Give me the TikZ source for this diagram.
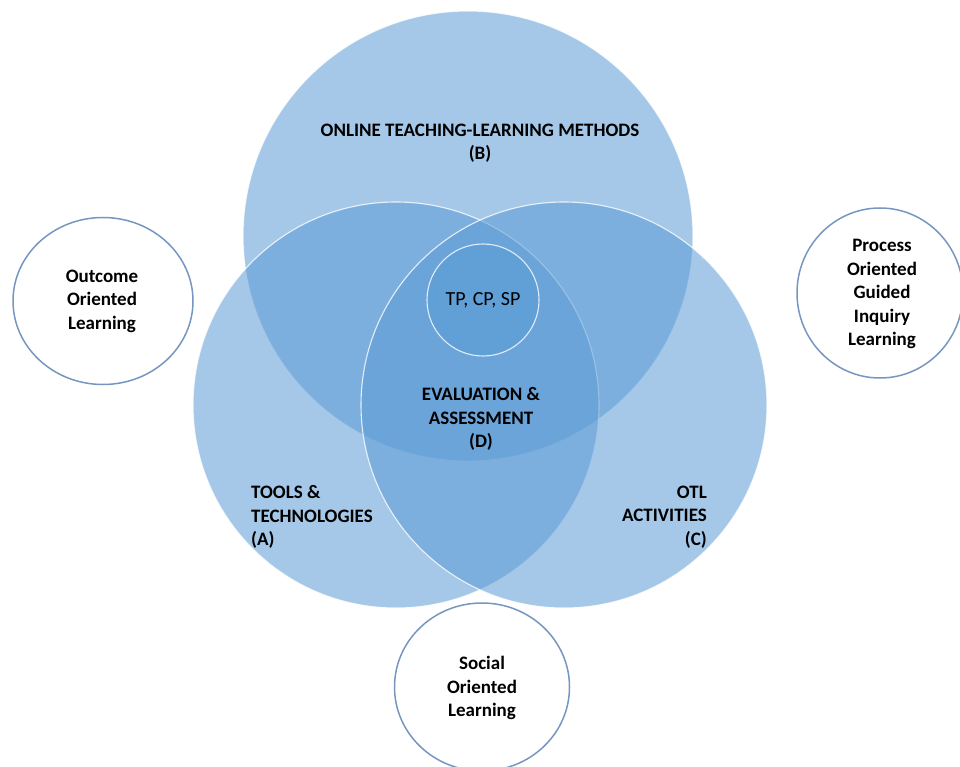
\documentclass[tikz,border=0pt]{standalone}
\usepackage{fontspec}
\setmainfont{Carlito}
\usetikzlibrary{positioning,shapes.geometric}
\definecolor{vennblue}{RGB}{91,155,213}
\definecolor{ringblue}{RGB}{118,150,194}

\begin{document}
\begin{tikzpicture}[
  x=1pt,y=-1pt,
  every node/.style={inner sep=0pt,font=\fontsize{19}{23.5}\selectfont},
  venn/.style={circle,fill=vennblue,fill opacity=0.55,draw=white,draw opacity=0.8,line width=1.1pt},
  ring/.style={ellipse,draw=ringblue,line width=1.5pt},
  lbl/.style={align=center,font=\fontsize{19}{23.5}\selectfont\bfseries},
  ]
  \useasboundingbox (0,0) rectangle (960,767);
  % outer learning approaches
  \node[ring,minimum width=180pt,minimum height=167pt] (outcome) at (103,301) {};
  \node[ring,minimum width=166pt,minimum height=170pt] (process) at (880,293) {};
  \node[ring,minimum width=175pt,minimum height=168pt] (social) at (482,687) {};
  % venn circles
  \node[venn,minimum size=450pt] (B) at (468,236) {};
  \node[venn,minimum size=406pt] (A) at (396,405) {};
  \node[venn,minimum size=406pt] (C) at (564,405) {};
  \node[venn,minimum size=112pt] (core) at (483,300) {};
  % labels
  \node[lbl] (Blbl) at (480,143) {ONLINE TEACHING-LEARNING METHODS\\(B)};
  \node[lbl,align=left,anchor=west] (Albl) at (251,517) {TOOLS \&\\TECHNOLOGIES\\(A)};
  \node[lbl,align=right,anchor=east] (Clbl) at (707,517) {OTL\\ACTIVITIES\\(C)};
  \node[lbl] (Dlbl) at (481,419) {EVALUATION \&\\ASSESSMENT\\(D)};
  \node[align=center,font=\fontsize{20}{24}\selectfont] (corelbl) at (core) {TP, CP, SP};
  \node[lbl] (outlbl) at (102,301) {Outcome\\Oriented\\Learning};
  \node[lbl] (proclbl) at (882,294) {Process\\Oriented\\Guided\\Inquiry\\Learning};
  \node[lbl] (soclbl) at (482,688) {Social\\Oriented\\Learning};
\end{tikzpicture}
\end{document}
